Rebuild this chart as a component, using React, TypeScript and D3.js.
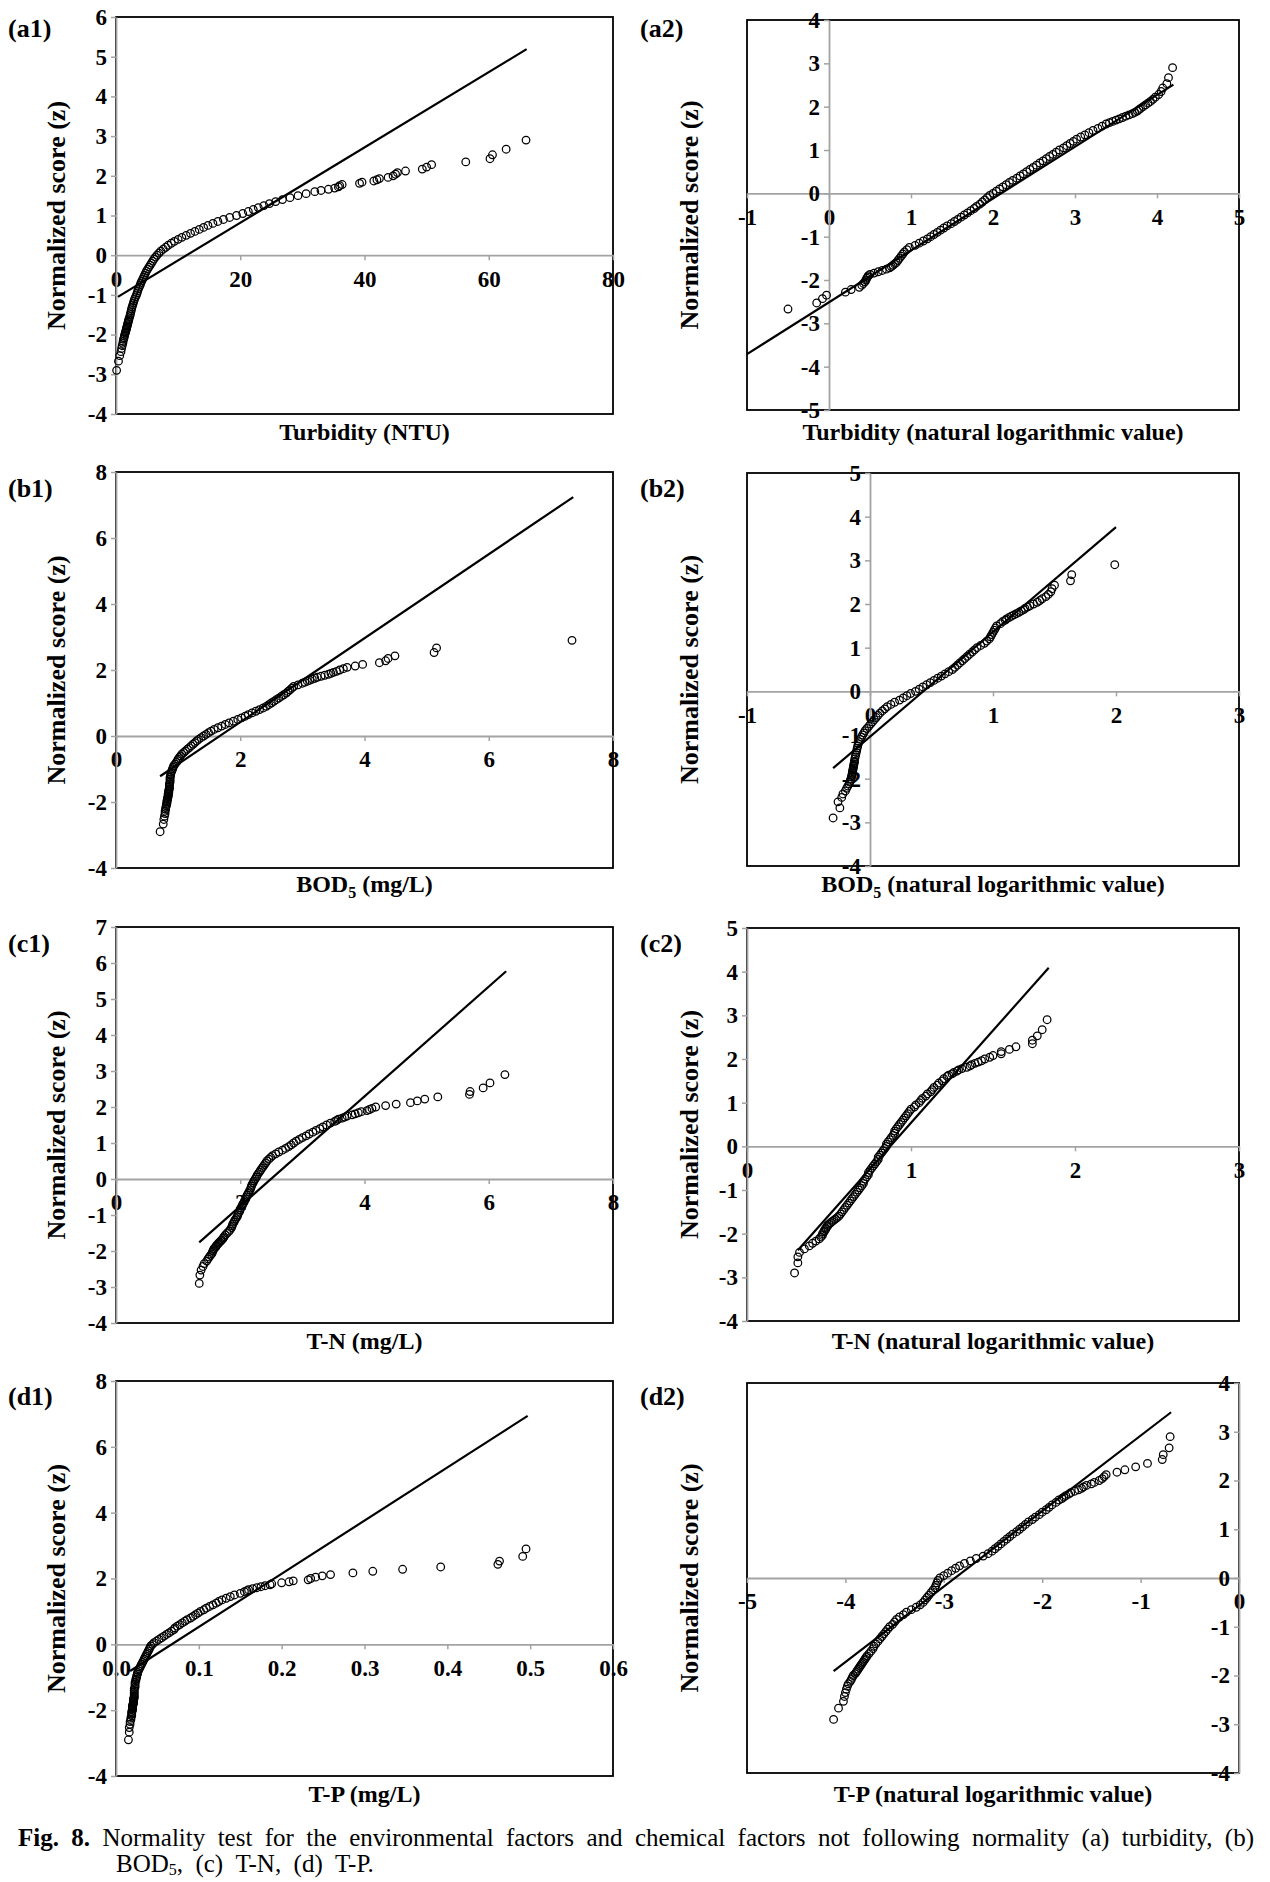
import React, { useRef, useEffect } from 'react';
import * as d3 from 'd3';

// normalized scores (z) shared by every panel, ascending
const zScores = [
  -2.90, -2.67, -2.53, -2.43, -2.35, -2.28, -2.22, -2.17, -2.12, -2.08, -2.04, -2.00, -1.96, -1.93, -1.90, -1.87, -1.84, -1.81, -1.78, -1.75, -1.72, -1.69, -1.66, -1.63, -1.60,
  -1.55, -1.50, -1.45, -1.40, -1.35, -1.30, -1.25, -1.20, -1.15, -1.10, -1.05, -1.00, -0.95, -0.90, -0.85, -0.80, -0.75, -0.70, -0.65, -0.60, -0.55,
  -0.50, -0.45, -0.40, -0.35, -0.30, -0.25, -0.20, -0.15, -0.10, -0.05, 0.00, 0.05, 0.10, 0.15, 0.20, 0.25, 0.30, 0.35, 0.40, 0.45, 0.50,
  0.55, 0.60, 0.65, 0.70, 0.75, 0.80, 0.85, 0.90, 0.95, 1.00, 1.05, 1.10, 1.15, 1.20, 1.25, 1.30, 1.35, 1.40, 1.45, 1.50, 1.55,
  1.60, 1.63, 1.66, 1.69, 1.72, 1.75, 1.78, 1.81, 1.84, 1.87, 1.90, 1.93, 1.96, 2.00, 2.04, 2.08, 2.12, 2.17, 2.22, 2.28, 2.35, 2.43, 2.53, 2.67, 2.90
];

// observed values matching zScores (null = no visible point)
const turbidityNtu = [
  0.1, 0.4, 0.6, 0.8, 0.9, 1.0, 1.1, 1.15, 1.2, 1.3, 1.35, 1.4, 1.5, 1.55, 1.6, 1.65, 1.7, 1.75, 1.8, 1.85, 1.9, 1.95, 2.0, 2.05, 2.1,
  2.2, 2.3, 2.35, 2.45, 2.5, 2.6, 2.7, 2.8, 2.9, 3.0, 3.15, 3.3, 3.4, 3.5, 3.6, 3.75, 3.9, 4.0, 4.15, 4.3, 4.45,
  4.6, 4.75, 4.9, 5.1, 5.3, 5.5, 5.7, 5.9, 6.1, 6.35, 6.6, 6.9, 7.2, 7.6, 8.0, 8.4, 8.9, 9.4, 10.0, 10.6, 11.3,
  12.0, 12.7, 13.4, 14.1, 14.8, 15.6, 16.4, 17.3, 18.3, 19.4, 20.4, 21.3, 22.1, 22.9, 23.8, 24.7, 25.7, 26.8, 28.0, 29.3, 30.6,
  32.0, 33.0, 34.2, 35.2, 35.8, 36.0, 36.4, 39.2, 39.6, 41.5, 42.0, 42.4, 43.8, 44.6, 45.0, 45.3, 46.6, 49.3, 50.0, 50.8, 56.3, 60.2, 60.6, 62.8, 66.0
];
const turbidityLn = [
  null, -0.5, -0.15, -0.08, -0.03, 0.2, 0.27, 0.37, 0.4, 0.42, 0.44, 0.45, 0.46, 0.47, 0.48, 0.5, 0.55, 0.6, 0.65, 0.7, 0.74, 0.76, 0.78, 0.8, 0.82,
  0.84, 0.86, 0.88, 0.9, 0.92, 0.95, 0.98, 1.05, 1.1, 1.15, 1.2, 1.24, 1.28, 1.32, 1.36, 1.4, 1.44, 1.49, 1.53, 1.57, 1.61,
  1.65, 1.69, 1.73, 1.77, 1.8, 1.84, 1.87, 1.9, 1.93, 1.96, 2.0, 2.04, 2.08, 2.12, 2.16, 2.2, 2.24, 2.29, 2.33, 2.37, 2.41,
  2.45, 2.49, 2.53, 2.57, 2.61, 2.65, 2.69, 2.73, 2.77, 2.81, 2.86, 2.9, 2.94, 2.98, 3.02, 3.07, 3.12, 3.17, 3.22, 3.28, 3.33,
  3.38, 3.42, 3.46, 3.5, 3.54, 3.58, 3.62, 3.66, 3.7, 3.73, 3.76, 3.78, 3.8, 3.83, 3.86, 3.89, 3.92, 3.95, 3.98, 4.02, 4.05, 4.07, 4.12, 4.14, 4.19
];
const bodMgL = [
  0.71, 0.76, 0.77, 0.78, 0.79, 0.79, 0.8, 0.8, 0.81, 0.81, 0.82, 0.82, 0.82, 0.83, 0.83, 0.83, 0.84, 0.84, 0.84, 0.84, 0.85, 0.85, 0.85, 0.85, 0.86,
  0.86, 0.86, 0.86, 0.87, 0.87, 0.87, 0.87, 0.88, 0.88, 0.89, 0.9, 0.91, 0.92, 0.93, 0.95, 0.97, 0.99, 1.0, 1.02, 1.04, 1.06,
  1.09, 1.12, 1.15, 1.18, 1.21, 1.24, 1.27, 1.3, 1.33, 1.37, 1.41, 1.45, 1.49, 1.53, 1.58, 1.64, 1.7, 1.76, 1.82, 1.89, 1.96,
  2.02, 2.08, 2.13, 2.19, 2.25, 2.31, 2.37, 2.42, 2.46, 2.5, 2.54, 2.58, 2.62, 2.66, 2.7, 2.74, 2.77, 2.8, 2.83, 2.86, 2.93,
  3.0, 3.04, 3.08, 3.12, 3.16, 3.2, 3.24, 3.3, 3.36, 3.42, 3.46, 3.5, 3.55, 3.6, 3.66, 3.72, 3.85, 3.97, 4.24, 4.34, 4.38, 4.49, 5.12, 5.16, 7.34
];
const bodLn = [
  -0.3, -0.245, -0.26, -0.23, -0.22, -0.2, -0.19, -0.18, -0.17, -0.165, -0.16, -0.155, -0.15, -0.148, -0.146, -0.144, -0.142, -0.14, -0.138, -0.136, -0.134, -0.132, -0.13, -0.128, -0.126,
  -0.124, -0.12, -0.116, -0.112, -0.108, -0.104, -0.1, -0.095, -0.09, -0.08, -0.07, -0.06, -0.05, -0.04, -0.025, -0.01, 0.005, 0.02, 0.035, 0.05, 0.065,
  0.08, 0.1, 0.12, 0.14, 0.17, 0.2, 0.24, 0.27, 0.3, 0.33, 0.37, 0.4, 0.43, 0.46, 0.49, 0.52, 0.55, 0.58, 0.61, 0.64, 0.67,
  0.69, 0.71, 0.73, 0.75, 0.77, 0.79, 0.81, 0.83, 0.85, 0.87, 0.9, 0.93, 0.95, 0.97, 0.98, 0.99, 1.0, 1.01, 1.02, 1.03, 1.06,
  1.08, 1.1, 1.11, 1.13, 1.15, 1.17, 1.19, 1.21, 1.23, 1.25, 1.26, 1.28, 1.3, 1.33, 1.36, 1.38, 1.4, 1.43, 1.45, 1.47, 1.48, 1.5, 1.63, 1.64, 1.99
];
const tnMgL = [
  1.34, 1.35, 1.37, 1.4, 1.42, 1.46, 1.48, 1.5, 1.52, 1.54, 1.55, 1.56, 1.57, 1.58, 1.6, 1.61, 1.62, 1.64, 1.65, 1.67, 1.69, 1.7, 1.72, 1.73, 1.74,
  1.76, 1.79, 1.82, 1.84, 1.86, 1.87, 1.88, 1.9, 1.91, 1.93, 1.95, 1.96, 1.97, 1.99, 2.0, 2.01, 2.03, 2.04, 2.06, 2.07, 2.09,
  2.1, 2.11, 2.13, 2.14, 2.16, 2.17, 2.18, 2.19, 2.21, 2.22, 2.24, 2.26, 2.27, 2.29, 2.31, 2.33, 2.35, 2.37, 2.39, 2.41, 2.43,
  2.46, 2.49, 2.52, 2.57, 2.62, 2.68, 2.73, 2.78, 2.82, 2.86, 2.9, 2.95, 3.0, 3.06, 3.11, 3.17, 3.22, 3.28, 3.33, 3.39, 3.45,
  3.52, 3.55, 3.58, 3.64, 3.68, 3.72, 3.8, 3.85, 3.9, 3.95, 4.04, 4.08, 4.12, 4.18, 4.34, 4.51, 4.74, 4.85, 4.97, 5.18, 5.69, 5.7, 5.91, 6.02, 6.26
];
const tnLn = [
  0.29, 0.31, 0.31, 0.32, 0.35, 0.38, 0.4, 0.42, 0.44, 0.45, 0.46, 0.46, 0.47, 0.47, 0.48, 0.48, 0.49, 0.49, 0.5, 0.51, 0.52, 0.53, 0.54, 0.55, 0.56,
  0.57, 0.58, 0.59, 0.6, 0.61, 0.62, 0.63, 0.64, 0.65, 0.66, 0.67, 0.68, 0.69, 0.7, 0.71, 0.71, 0.72, 0.73, 0.74, 0.74, 0.75,
  0.76, 0.77, 0.78, 0.79, 0.8, 0.8, 0.81, 0.82, 0.83, 0.84, 0.85, 0.85, 0.86, 0.87, 0.88, 0.89, 0.9, 0.9, 0.91, 0.92, 0.93,
  0.94, 0.95, 0.96, 0.97, 0.98, 0.99, 1.0, 1.02, 1.03, 1.05, 1.06, 1.07, 1.09, 1.1, 1.12, 1.13, 1.14, 1.16, 1.17, 1.19, 1.2,
  1.22, 1.23, 1.25, 1.26, 1.28, 1.29, 1.31, 1.34, 1.36, 1.37, 1.39, 1.41, 1.43, 1.45, 1.48, 1.5, 1.55, 1.55, 1.6, 1.64, 1.74, 1.74, 1.77, 1.8, 1.83
];
const tpMgL = [
  0.015, 0.016, 0.016, 0.017, 0.017, 0.018, 0.018, 0.019, 0.019, 0.019, 0.019, 0.02, 0.02, 0.02, 0.02, 0.02, 0.02, 0.021, 0.021, 0.021, 0.021, 0.021, 0.021, 0.022, 0.022,
  0.022, 0.022, 0.022, 0.022, 0.022, 0.023, 0.023, 0.023, 0.023, 0.024, 0.024, 0.025, 0.025, 0.026, 0.026, 0.027, 0.028, 0.029, 0.03, 0.031, 0.032,
  0.033, 0.034, 0.035, 0.036, 0.037, 0.038, 0.039, 0.04, 0.041, 0.042, 0.044, 0.046, 0.049, 0.052, 0.055, 0.058, 0.061, 0.064, 0.067, 0.07, 0.071,
  0.074, 0.077, 0.08, 0.083, 0.086, 0.09, 0.093, 0.096, 0.099, 0.102, 0.106, 0.109, 0.113, 0.117, 0.121, 0.124, 0.128, 0.133, 0.138, 0.143, 0.15,
  0.155, 0.158, 0.16, 0.165, 0.17, 0.175, 0.18, 0.186, 0.188, 0.2, 0.209, 0.214, 0.232, 0.235, 0.241, 0.249, 0.259, 0.286, 0.31, 0.346, 0.392, 0.461, 0.463, 0.491, 0.495
];
const tpLn = [
  -4.12, -4.07, -4.02, -4.01, -4.0, -3.99, -3.98, -3.97, -3.95, -3.94, -3.93, -3.92, -3.9, -3.89, -3.88, -3.87, -3.86, -3.85, -3.84, -3.83, -3.82, -3.81, -3.8, -3.79, -3.78,
  -3.76, -3.74, -3.72, -3.71, -3.69, -3.67, -3.65, -3.63, -3.61, -3.59, -3.57, -3.55, -3.52, -3.5, -3.48, -3.45, -3.41, -3.38, -3.33, -3.28, -3.24,
  -3.21, -3.19, -3.17, -3.15, -3.13, -3.11, -3.09, -3.08, -3.07, -3.06, -3.04, -3.0, -2.96, -2.92, -2.88, -2.84, -2.79, -2.73, -2.67, -2.6, -2.55,
  -2.51, -2.48, -2.45, -2.42, -2.39, -2.36, -2.33, -2.3, -2.26, -2.23, -2.2, -2.17, -2.14, -2.1, -2.07, -2.03, -2.0, -1.96, -1.93, -1.9, -1.86,
  -1.83, -1.8, -1.78, -1.76, -1.73, -1.71, -1.67, -1.63, -1.6, -1.58, -1.55, -1.5, -1.47, -1.42, -1.39, -1.37, -1.35, -1.24, -1.16, -1.05, -0.93, -0.78, -0.77, -0.71, -0.7
];

// fitted straight lines: [x, z] end points
const turbidityNtuFit = [[0.3, -1.05], [66.1, 5.19]];
const turbidityLnFit = [[-1, -3.71], [4.2, 2.51]];
const bodMgLFit = [[0.71, -1.22], [7.36, 7.24]];
const bodLnFit = [[-0.3, -1.76], [2.0, 3.76]];
const tnMgLFit = [[1.34, -1.76], [6.28, 5.77]];
const tnLnFit = [[0.31, -2.38], [1.84, 4.09]];
const tpMgLFit = [[0.017, -0.81], [0.497, 6.94]];
const tpLnFit = [[-4.12, -1.91], [-0.69, 3.4]];

// axis ticks
const ticksA1x = [0, 20, 40, 60, 80];
const ticksA1y = [-4, -3, -2, -1, 0, 1, 2, 3, 4, 5, 6];
const ticksA2x = [-1, 0, 1, 2, 3, 4, 5];
const ticksA2y = [-5, -4, -3, -2, -1, 0, 1, 2, 3, 4];
const ticksB1x = [0, 2, 4, 6, 8];
const ticksB1y = [-4, -2, 0, 2, 4, 6, 8];
const ticksB2x = [-1, 0, 1, 2, 3];
const ticksB2y = [-4, -3, -2, -1, 0, 1, 2, 3, 4, 5];
const ticksC1x = [0, 2, 4, 6, 8];
const ticksC1y = [-4, -3, -2, -1, 0, 1, 2, 3, 4, 5, 6, 7];
const ticksC2x = [0, 1, 2, 3];
const ticksC2y = [-4, -3, -2, -1, 0, 1, 2, 3, 4, 5];
const ticksD1x = [0, 0.1, 0.2, 0.3, 0.4, 0.5, 0.6];
const ticksD1y = [-4, -2, 0, 2, 4, 6, 8];
const ticksD2x = [-5, -4, -3, -2, -1, 0];
const ticksD2y = [-4, -3, -2, -1, 0, 1, 2, 3, 4];

const yTitle = 'Normalized score (z)';
const captionLine1 = [
  ['Fig.', true], ['8.', true], ['Normality', false], ['test', false], ['for', false], ['the', false],
  ['environmental', false], ['factors', false], ['and', false], ['chemical', false], ['factors', false],
  ['not', false], ['following', false], ['normality', false], ['(a)', false], ['turbidity,', false], ['(b)', false]
];
const captionLine2 = ['BOD|5|,', '(c)', 'T-N,', '(d)', 'T-P.'];

const intFmt = (d) => String(d);
const oneDecFmt = (d) => d.toFixed(1);

const LEFT = { left: 116, right: 613, labelX: 8, yTitleX: 56 };
const RIGHT = { left: 747, right: 1239, labelX: 640, yTitleX: 689 };

const panels = [
  { name: '(a1)', col: LEFT, top: 17, bottom: 414, labelY: 28, titleY: 432, xs: turbidityNtu, fit: turbidityNtuFit,
    xDomain: [0, 80], yDomain: [-4, 6], xTicks: ticksA1x, yTicks: ticksA1y, fmt: intFmt, title: ['Turbidity (NTU)'] },
  { name: '(a2)', col: RIGHT, top: 20, bottom: 410, labelY: 28, titleY: 432, xs: turbidityLn, fit: turbidityLnFit,
    xDomain: [-1, 5], yDomain: [-5, 4], xTicks: ticksA2x, yTicks: ticksA2y, fmt: intFmt, title: ['Turbidity (natural logarithmic value)'] },
  { name: '(b1)', col: LEFT, top: 472, bottom: 868, labelY: 488, titleY: 884, xs: bodMgL, fit: bodMgLFit,
    xDomain: [0, 8], yDomain: [-4, 8], xTicks: ticksB1x, yTicks: ticksB1y, fmt: intFmt, title: ['BOD', '5', ' (mg/L)'] },
  { name: '(b2)', col: RIGHT, top: 473, bottom: 866, labelY: 488, titleY: 884, xs: bodLn, fit: bodLnFit,
    xDomain: [-1, 3], yDomain: [-4, 5], xTicks: ticksB2x, yTicks: ticksB2y, fmt: intFmt, title: ['BOD', '5', ' (natural logarithmic value)'] },
  { name: '(c1)', col: LEFT, top: 927, bottom: 1323, labelY: 943, titleY: 1341, xs: tnMgL, fit: tnMgLFit,
    xDomain: [0, 8], yDomain: [-4, 7], xTicks: ticksC1x, yTicks: ticksC1y, fmt: intFmt, title: ['T-N (mg/L)'] },
  { name: '(c2)', col: RIGHT, top: 928, bottom: 1321, labelY: 943, titleY: 1341, xs: tnLn, fit: tnLnFit,
    xDomain: [0, 3], yDomain: [-4, 5], xTicks: ticksC2x, yTicks: ticksC2y, fmt: intFmt, title: ['T-N (natural logarithmic value)'] },
  { name: '(d1)', col: LEFT, top: 1381, bottom: 1776, labelY: 1396, titleY: 1794, xs: tpMgL, fit: tpMgLFit,
    xDomain: [0, 0.6], yDomain: [-4, 8], xTicks: ticksD1x, yTicks: ticksD1y, fmt: oneDecFmt, title: ['T-P (mg/L)'] },
  { name: '(d2)', col: RIGHT, top: 1383, bottom: 1773, labelY: 1396, titleY: 1794, xs: tpLn, fit: tpLnFit,
    xDomain: [-5, 0], yDomain: [-4, 4], xTicks: ticksD2x, yTicks: ticksD2y, fmt: intFmt, title: ['T-P (natural logarithmic value)'] }
];

const FONT = '"Liberation Serif", "Times New Roman", Times, serif';
const AXIS_GRAY = '#a3a3a3';

function App() {
  const ref = useRef(null);

  useEffect(() => {
    const svg = d3.select(ref.current);
    svg.selectAll('*').remove();
    // work in page coordinates (body has an 8px margin)
    const root = svg.append('g').attr('transform', 'translate(-8,-8)');

    panels.forEach((p) => {
      const left = p.col.left, right = p.col.right;
      const x = d3.scaleLinear().domain(p.xDomain).range([left, right]);
      const y = d3.scaleLinear().domain(p.yDomain).range([p.bottom, p.top]);
      const g = root.append('g');

      g.append('rect')
        .attr('x', left).attr('y', p.top)
        .attr('width', right - left).attr('height', p.bottom - p.top)
        .attr('fill', 'none').attr('stroke', '#000').attr('stroke-width', 1.8);

      const styleAxis = (sel) => {
        sel.attr('font-family', FONT).attr('font-size', 23).attr('font-weight', 'bold');
        sel.select('.domain').attr('stroke', AXIS_GRAY).attr('stroke-width', 1.8);
        sel.selectAll('.tick line').attr('stroke', AXIS_GRAY).attr('stroke-width', 1.5);
        sel.selectAll('.tick text').attr('fill', '#000');
      };

      g.append('g')
        .attr('transform', 'translate(0,' + y(0) + ')')
        .call(d3.axisBottom(x).tickValues(p.xTicks).tickFormat(p.fmt).tickSize(5).tickSizeOuter(0).tickPadding(10))
        .call(styleAxis);

      g.append('g')
        .attr('transform', 'translate(' + x(0) + ',0)')
        .call(d3.axisLeft(y).tickValues(p.yTicks).tickFormat(intFmt).tickSize(5).tickSizeOuter(0).tickPadding(4))
        .call(styleAxis);

      const pts = zScores
        .map((z, i) => ({ v: p.xs[i], z: z }))
        .filter((d) => d.v !== null && d.v !== undefined);

      g.append('g').selectAll('circle')
        .data(pts)
        .enter().append('circle')
        .attr('cx', (d) => x(d.v))
        .attr('cy', (d) => y(d.z))
        .attr('r', 3.8)
        .attr('fill', 'none')
        .attr('stroke', '#000')
        .attr('stroke-width', 1.25);

      g.append('path')
        .datum(p.fit)
        .attr('d', d3.line().x((d) => x(d[0])).y((d) => y(d[1])))
        .attr('fill', 'none')
        .attr('stroke', '#000')
        .attr('stroke-width', 2.2);

      // panel label
      g.append('text')
        .attr('x', p.col.labelX).attr('y', p.labelY).attr('dy', '0.35em')
        .attr('font-family', FONT).attr('font-size', 26).attr('font-weight', 'bold')
        .text(p.name);

      // y title
      g.append('text')
        .attr('transform', 'translate(' + p.col.yTitleX + ',' + (p.top + p.bottom) / 2 + ') rotate(-90)')
        .attr('dy', '0.35em')
        .attr('text-anchor', 'middle')
        .attr('font-family', FONT).attr('font-size', 26).attr('font-weight', 'bold')
        .text(yTitle);

      // x title (second part is a subscript when present)
      const xt = g.append('text')
        .attr('x', (left + right) / 2).attr('y', p.titleY).attr('dy', '0.35em')
        .attr('text-anchor', 'middle')
        .attr('font-family', FONT).attr('font-size', 24).attr('font-weight', 'bold');
      if (p.title.length === 1) {
        xt.text(p.title[0]);
      } else {
        xt.append('tspan').text(p.title[0]);
        xt.append('tspan').attr('font-size', 16).attr('dy', 6).text(p.title[1]);
        xt.append('tspan').attr('dy', -6).text(p.title[2]);
      }
    });

    // caption, first line justified between two edges
    const capSize = 25;
    const lineStart = 18, lineEnd = 1254;
    const widths = captionLine1.map((w) => {
      const t = root.append('text')
        .attr('font-family', FONT).attr('font-size', capSize)
        .attr('font-weight', w[1] ? 'bold' : 'normal')
        .text(w[0]);
      const len = t.node().getComputedTextLength();
      t.remove();
      return len;
    });
    const gap = (lineEnd - lineStart - d3.sum(widths)) / (captionLine1.length - 1);
    let cx = lineStart;
    captionLine1.forEach((w, i) => {
      root.append('text')
        .attr('x', cx).attr('y', 1846)
        .attr('font-family', FONT).attr('font-size', capSize)
        .attr('font-weight', w[1] ? 'bold' : 'normal')
        .text(w[0]);
      cx += widths[i] + gap;
    });

    const gap2 = Math.max(gap, 12);
    let cx2 = 116;
    captionLine2.forEach((w) => {
      const t = root.append('text')
        .attr('x', cx2).attr('y', 1872)
        .attr('font-family', FONT).attr('font-size', capSize);
      const parts = w.split('|');
      if (parts.length === 3) {
        t.append('tspan').text(parts[0]);
        t.append('tspan').attr('font-size', 16).attr('dy', 3).text(parts[1]);
        t.append('tspan').attr('dy', -3).text(parts[2]);
      } else {
        t.text(w);
      }
      cx2 += t.node().getComputedTextLength() + gap2;
    });
  }, []);

  return (
    <svg ref={ref} width={1262} height={1874} style={{ display: 'block' }} />
  );
}

export default App;
